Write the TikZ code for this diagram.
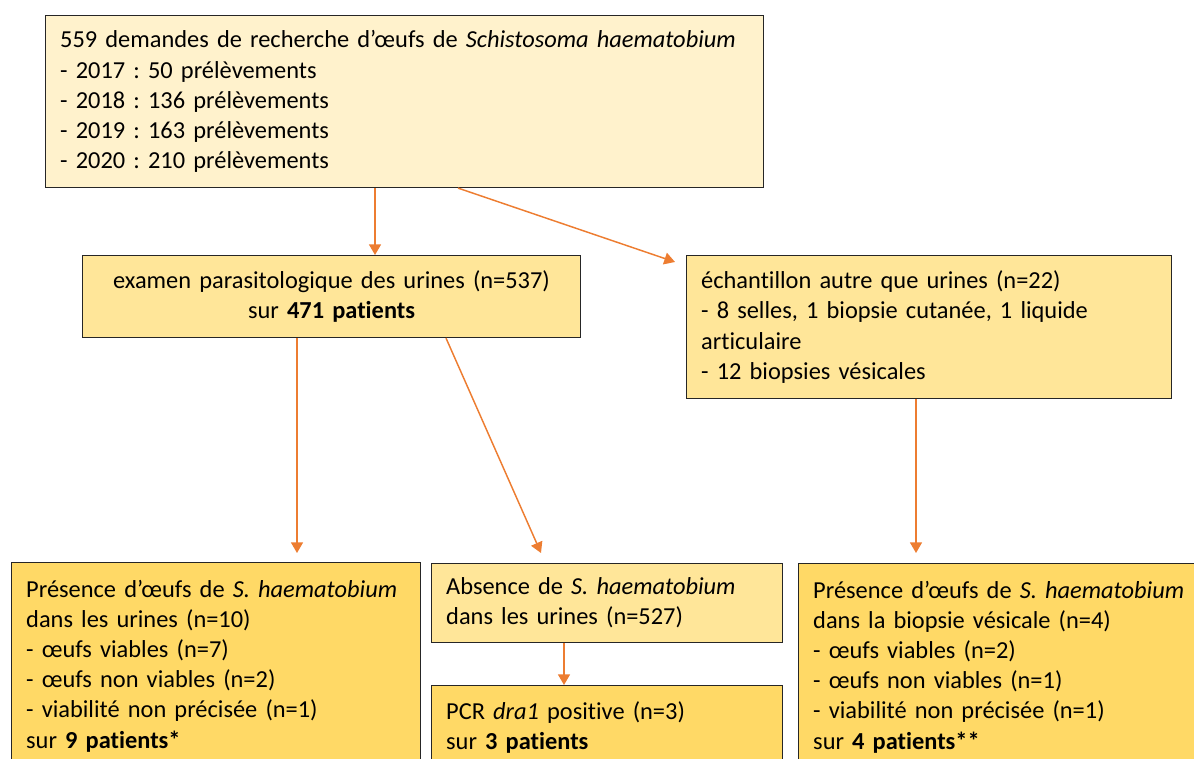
\documentclass[tikz,border=0pt]{standalone}
\usepackage{fontspec}
\setmainfont{Carlito}[Ligatures=NoCommon]
\frenchspacing
\usetikzlibrary{arrows.meta}
\usetikzlibrary{calc}
\usetikzlibrary{positioning}
\definecolor{creme}{HTML}{FFF2CC}
\definecolor{jaune}{HTML}{FFE699}
\definecolor{dore}{HTML}{FFD966}
\definecolor{fleche}{HTML}{ED7D31}

\begin{document}
\begin{tikzpicture}[x=0.75pt,y=-0.75pt,
		boite/.style={draw=black!85,line width=0.8pt,anchor=north west,align=left,
			inner xsep=11pt,font=\fontsize{18.3pt}{22.6pt}\selectfont},
		fl/.style={draw=fleche,line width=1.1pt,-{Triangle[width=9pt,length=8pt]}}]
		\useasboundingbox (0,0) rectangle (1194,758);
		\clip (0,0) rectangle (1194,758);
		\node[boite,fill=creme,text width=516.5pt,minimum height=129pt](demandes) at (45,15)
			{559 demandes de recherche d’œufs de \emph{Schistosoma haematobium}\\
			- 2017 : 50 prélèvements\\
			- 2018 : 136 prélèvements\\
			- 2019 : 163 prélèvements\\
			- 2020 : 210 prélèvements};
		\node[boite,fill=jaune,align=center,text width=351.5pt,minimum height=61.5pt](urines) at (82,255)
			{examen parasitologique des urines (n=537)\\
			sur \textbf{471 patients}};
		\node[boite,fill=jaune,text width=341.75pt,minimum height=107.25pt](autre) at (686,255)
			{échantillon autre que urines (n=22)\\
			- 8 selles, 1 biopsie cutanée, 1 liquide\\
			articulaire\\
			- 12 biopsies vésicales};
		\node[boite,fill=dore,text width=284.75pt,minimum height=155.25pt](presU) at (11,562)
			{Présence d’œufs de \emph{S. haematobium}\\
			dans les urines (n=10)\\
			- œufs viables (n=7)\\
			- œufs non viables (n=2)\\
			- viabilité non précisée (n=1)\\
			sur \textbf{9 patients*}};
		\node[boite,fill=jaune,text width=241.25pt,minimum height=59.25pt](absU) at (431,563)
			{Absence de \emph{S. haematobium}\\
			dans les urines (n=527)};
		\node[boite,fill=dore,text width=241.25pt,minimum height=63pt](pcr) at (431,685)
			{PCR \emph{dra1} positive (n=3)\\
			sur \textbf{3 patients}};
		\node[boite,fill=dore,text width=285.5pt,minimum height=155.25pt](presB) at (798,563)
			{Présence d’œufs de \emph{S. haematobium}\\
			dans la biopsie vésicale (n=4)\\
			- œufs viables (n=2)\\
			- œufs non viables (n=1)\\
			- viabilité non précisée (n=1)\\
			sur \textbf{4 patients**}};
		\draw[fl] ($(demandes.south west)+(330,0)$) -- ($(urines.north west)+(293,0)$);
		\draw[fl] ($(demandes.south west)+(413,0)$) -- ($(autre.north west)+(-11,7)$);
		\draw[fl] ($(urines.south west)+(215,0)$) -- ($(presU.north west)+(286,-9)$);
		\draw[fl] ($(urines.south west)+(364,0)$) -- ($(absU.north west)+(110,-10)$);
		\draw[fl] ($(autre.south west)+(230,0)$) -- ($(presB.north west)+(118,-10)$);
		\draw[fl] ($(absU.south west)+(133,0)$) -- ($(pcr.north west)+(133,0)$);
	\end{tikzpicture}
\end{document}
